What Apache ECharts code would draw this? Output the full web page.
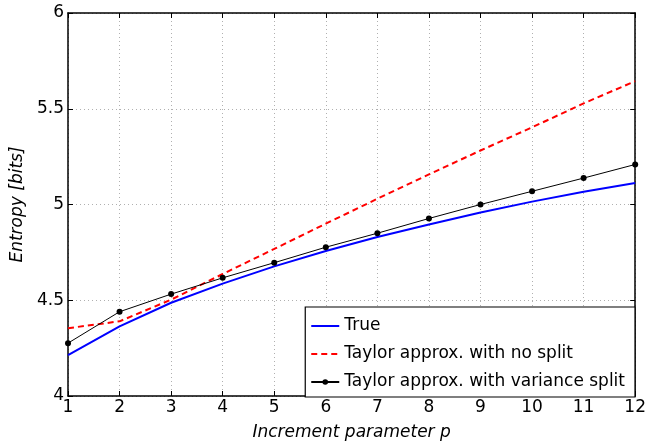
<!DOCTYPE html>
<html lang="en">
<head>
    <meta charset="utf-8">
    <title>Entropy vs increment parameter</title>
    <script src="https://cdn.jsdelivr.net/npm/echarts@6/dist/echarts.min.js"></script>
    <style>
        html, body { margin: 0; padding: 0; background: #fff; }
        #chart { width: 649px; height: 446px; }
    </style>
</head>
<body>
    <div id="chart"></div>
    <script>
        // increment parameter p
        var pValues = [1, 2, 3, 4, 5, 6, 7, 8, 9, 10, 11, 12];
        // entropy in bits
        var trueEntropy = [4.214, 4.364, 4.487, 4.587, 4.677, 4.757, 4.830, 4.896, 4.958, 5.015, 5.067, 5.112];
        var taylorNoSplit = [4.354, 4.390, 4.503, 4.637, 4.768, 4.900, 5.030, 5.157, 5.282, 5.403, 5.528, 5.644];
        var taylorVarSplit = [4.276, 4.440, 4.532, 4.617, 4.696, 4.777, 4.850, 4.927, 5.000, 5.069, 5.138, 5.209];
        var yTicks = [4, 4.5, 5, 5.5, 6];

        function pairs(ys) {
            return pValues.map(function (p, i) { return [p, ys[i]]; });
        }

        var font = 'DejaVu Sans, Liberation Sans, sans-serif';
        var dotted = { show: true, lineStyle: { color: '#b0b0b0', type: [1, 3], width: 1 } };
        var frameLine = { show: true, onZero: false, lineStyle: { color: '#000', width: 1.5 } };
        var innerTick = { show: true, inside: true, length: 5, lineStyle: { color: '#000' } };

        var myChart = echarts.init(document.getElementById('chart'));
        var option = {
            animation: false,
            backgroundColor: '#fff',
            grid: { left: 68, right: 13, top: 13, bottom: 47, show: false },
            xAxis: [{
                type: 'value', min: 1, max: 12, interval: 1, position: 'bottom',
                name: 'Increment parameter p', nameLocation: 'middle', nameGap: 28,
                nameTextStyle: { fontFamily: font, fontSize: 17, fontStyle: 'italic', color: '#000' },
                axisLine: frameLine, axisTick: innerTick,
                axisLabel: { fontFamily: font, fontSize: 17, color: '#000', margin: 3 },
                splitLine: dotted
            }, {
                type: 'value', min: 1, max: 12, interval: 1, position: 'top',
                axisLine: frameLine, axisTick: innerTick,
                axisLabel: { show: false }, splitLine: { show: false }
            }],
            yAxis: [{
                type: 'value', min: yTicks[0], max: yTicks[yTicks.length - 1], interval: 0.5, position: 'left',
                name: 'Entropy [bits]', nameLocation: 'middle', nameGap: 42,
                nameTextStyle: { fontFamily: font, fontSize: 17, fontStyle: 'italic', color: '#000' },
                axisLine: frameLine, axisTick: innerTick,
                axisLabel: { fontFamily: font, fontSize: 17, color: '#000', margin: 4 },
                splitLine: dotted
            }, {
                type: 'value', min: yTicks[0], max: yTicks[yTicks.length - 1], interval: 0.5, position: 'right',
                axisLine: frameLine, axisTick: innerTick,
                axisLabel: { show: false }, splitLine: { show: false }
            }],
            legend: {
                orient: 'vertical', right: 14, bottom: 49,
                backgroundColor: '#fff', borderColor: '#000', borderWidth: 1.2, borderRadius: 0,
                padding: [10, 10, 6, 5], itemGap: 10, itemWidth: 28, itemHeight: 7,
                textStyle: { fontFamily: font, fontSize: 17, color: '#000', lineHeight: 18 },
                data: [
                    { name: 'True', itemStyle: { color: 'transparent', borderWidth: 0 } },
                    { name: 'Taylor approx. with no split', itemStyle: { color: 'transparent', borderWidth: 0 } },
                    { name: 'Taylor approx. with variance split' }
                ]
            },
            series: [{
                name: 'True', type: 'line', data: pairs(trueEntropy),
                showSymbol: false, symbol: 'none',
                lineStyle: { color: '#0000ff', width: 2 }, itemStyle: { color: '#0000ff' }, z: 3
            }, {
                name: 'Taylor approx. with no split', type: 'line', data: pairs(taylorNoSplit),
                showSymbol: false, symbol: 'none',
                lineStyle: { color: '#ff0000', width: 2, type: [6, 4] }, itemStyle: { color: '#ff0000' }, z: 3
            }, {
                name: 'Taylor approx. with variance split', type: 'line', data: pairs(taylorVarSplit),
                symbol: 'circle', symbolSize: 6,
                lineStyle: { color: '#000', width: 1 }, itemStyle: { color: '#000' }, z: 4
            }]
        };
        myChart.setOption(option);
    </script>
</body>
</html>
